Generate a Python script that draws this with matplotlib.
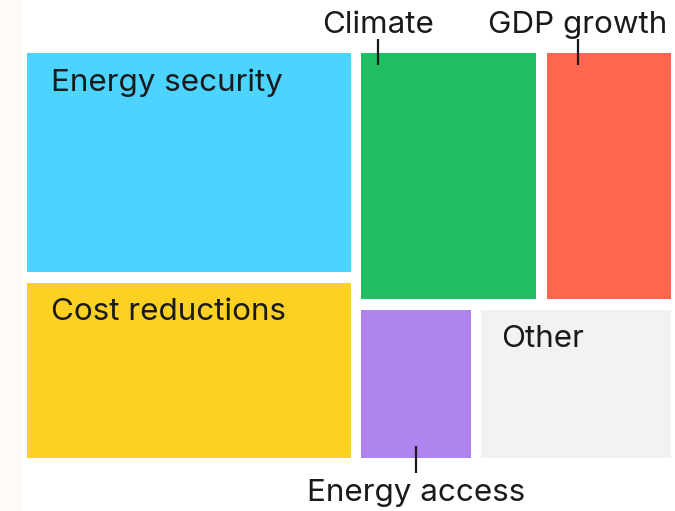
import matplotlib
matplotlib.use("Agg")
import matplotlib.pyplot as plt
from matplotlib.patches import Rectangle

plt.rcParams['font.family'] = ['Inter', 'DejaVu Sans']

# ---- data ----
categories = ["Energy security", "Cost reductions", "Climate", "GDP growth", "Energy access", "Other"]
values = [28.2, 22.9, 17.5, 12.7, 7.0, 11.7]
colors = ["#4DD3FF", "#FDD024", "#20BE62", "#FF664D", "#B084EE", "#F2F2F2"]
# layout groups: left column (stacked), right block: top row & bottom row
left_col = [0, 1]
right_rows = [[2, 3], [4, 5]]
inside_label = [True, True, False, False, False, True]

# ---- figure ----
W, H = 675, 511
fig = plt.figure(figsize=(W / 100, H / 100), dpi=100)
ax = fig.add_axes([0, 0, 1, 1])
ax.set_xlim(0, W)
ax.set_ylim(H, 0)
ax.axis('off')
ax.add_patch(Rectangle((0, 0), 22, H, color="#FEFAF7", lw=0, zorder=0))

X0, Y0, BW, BH = 26.7, 53.3, 654.8, 415.5
gap = 10.5
total = sum(values)

rects = {}
left_sum = sum(values[i] for i in left_col)
lw = BW * left_sum / total
y = Y0
for i in left_col:
    h = BH * values[i] / left_sum
    rects[i] = (X0, y, lw, h)
    y += h
rw = BW - lw
right_sum = total - left_sum
y = Y0
for row in right_rows:
    rs = sum(values[i] for i in row)
    h = BH * rs / right_sum
    x = X0 + lw
    for i in row:
        w = rw * values[i] / rs
        rects[i] = (x, y, w, h)
        x += w
    y += h

for i, (x, y, w, h) in rects.items():
    ax.add_patch(Rectangle((x, y), w - gap, h - gap, facecolor=colors[i], edgecolor='none', zorder=1))

fs = 22.6
tc = "#1a1a1a"
for i, (x, y, w, h) in rects.items():
    if inside_label[i]:
        padx = 24 if i != 5 else 20
        ax.text(x + padx, y + 37.5, categories[i], ha='left', va='baseline', fontsize=fs, color=tc, zorder=3)

# external labels with leader lines
def top_label(i, dx):
    x, y, w, h = rects[i]
    lx = x + dx
    ax.plot([lx, lx], [y - 14, y + 12], color=tc, lw=1.6, zorder=3, solid_capstyle='butt')
    ax.text(lx, y - 20, categories[i], ha='center', va='baseline', fontsize=fs, color=tc, zorder=3)

top_label(2, 17)
top_label(3, 31)
x, y, w, h = rects[4]
lx = x + (w - gap) / 2
yb = y + h - gap
ax.plot([lx, lx], [yb - 12, yb + 15], color=tc, lw=1.6, zorder=3, solid_capstyle='butt')
ax.text(lx, yb + 43, categories[4], ha='center', va='baseline', fontsize=fs, color=tc, zorder=3)

fig.savefig("out.png", dpi=100)
